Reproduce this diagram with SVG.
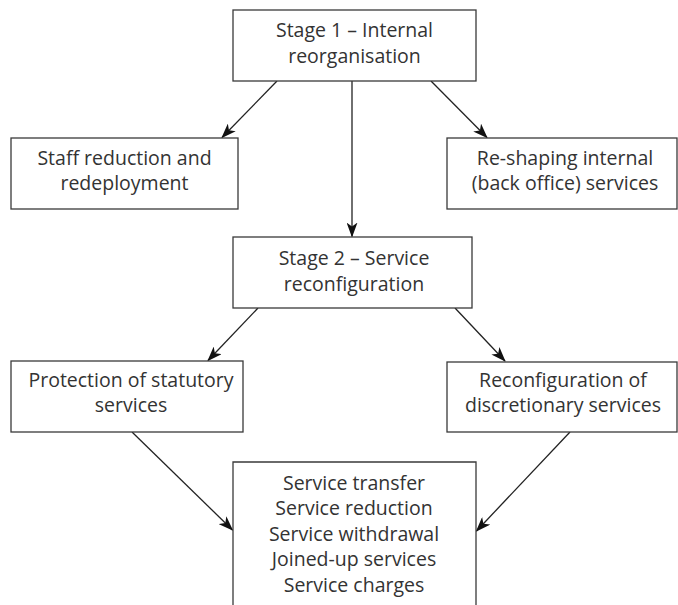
<svg xmlns="http://www.w3.org/2000/svg" width="678" height="605" viewBox="0 0 678 605">
<defs>
<style>
.box{fill:#fff;stroke:#3a3a3a;stroke-width:1.3}
.t{font-family:"Open Sans","Noto Sans","Liberation Sans",sans-serif;font-size:19.5px;fill:#333;text-anchor:middle}
.c{stroke:#222;stroke-width:1.3;fill:none;marker-end:url(#ah)}
</style>
<marker id="ah" viewBox="0 0 15 11" refX="14" refY="5.5" markerWidth="15" markerHeight="11" markerUnits="userSpaceOnUse" orient="auto">
<path d="M0,0 L15,5.5 L0,11 L4,5.5 z" fill="#111"/>
</marker>
</defs>
<rect width="678" height="605" fill="#fff"/>
<g id="connectors">
<line class="c" x1="277" y1="81" x2="222" y2="137.5"/>
<line class="c" x1="431" y1="81" x2="487" y2="137.5"/>
<line class="c" x1="352" y1="81" x2="352" y2="236.5"/>
<line class="c" x1="258" y1="308" x2="208" y2="360.5"/>
<line class="c" x1="455" y1="308" x2="505" y2="361"/>
<line class="c" x1="132" y1="432" x2="232.5" y2="530"/>
<line class="c" x1="570" y1="432" x2="476.5" y2="531"/>
</g>
<g id="stage1">
<rect class="box" x="233" y="10" width="243" height="71"/>
<text class="t" x="354.5" y="37">Stage 1 – Internal</text>
<text class="t" x="354.5" y="63">reorganisation</text>
</g>
<g id="staff">
<rect class="box" x="11" y="138" width="227" height="71"/>
<text class="t" x="124.5" y="165">Staff reduction and</text>
<text class="t" x="124.5" y="190">redeployment</text>
</g>
<g id="reshaping">
<rect class="box" x="447" y="138" width="230" height="71"/>
<text class="t" x="565" y="165">Re-shaping internal</text>
<text class="t" x="565" y="190">(back office) services</text>
</g>
<g id="stage2">
<rect class="box" x="233" y="237" width="239" height="71"/>
<text class="t" x="354" y="265">Stage 2 – Service</text>
<text class="t" x="354" y="291">reconfiguration</text>
</g>
<g id="protection">
<rect class="box" x="11" y="361" width="232" height="71"/>
<text class="t" x="131" y="387">Protection of statutory</text>
<text class="t" x="131" y="412">services</text>
</g>
<g id="reconfig">
<rect class="box" x="447" y="362" width="230" height="70"/>
<text class="t" x="563" y="387">Reconfiguration of</text>
<text class="t" x="563" y="412">discretionary services</text>
</g>
<g id="outcomes">
<path class="box" d="M233,610 L233,462 L476,462 L476,610"/>
<text class="t" x="354" y="490">Service transfer</text>
<text class="t" x="354" y="515">Service reduction</text>
<text class="t" x="354" y="541">Service withdrawal</text>
<text class="t" x="354" y="566">Joined-up services</text>
<text class="t" x="354" y="592">Service charges</text>
</g>
</svg>
